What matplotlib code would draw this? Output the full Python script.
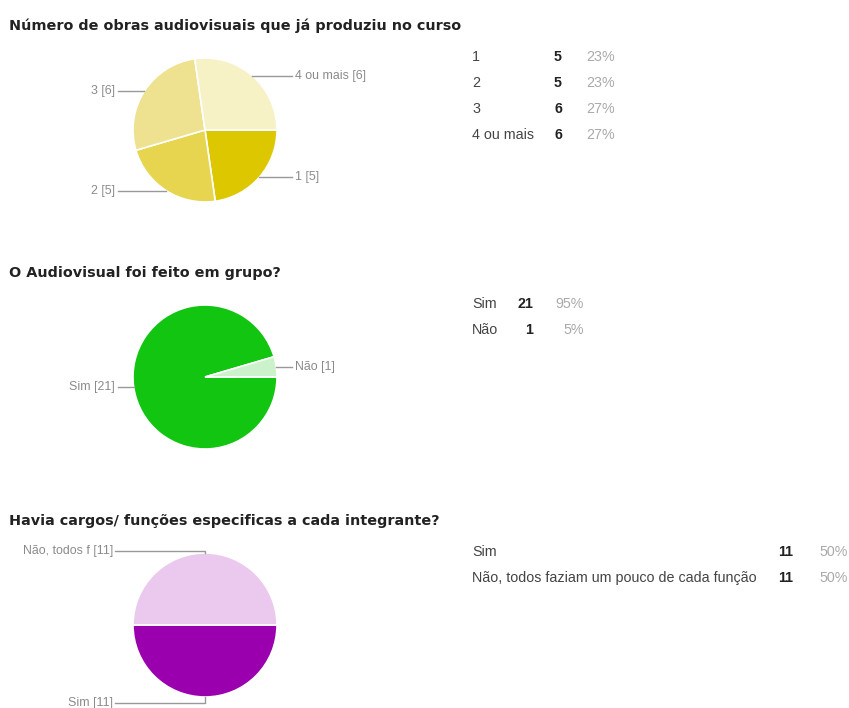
import numpy as np
import matplotlib
matplotlib.use("Agg")
import matplotlib.pyplot as plt

# --- data ---
titles = ["Número de obras audiovisuais que já produziu no curso",
          "O Audiovisual foi feito em grupo?",
          "Havia cargos/ funções especificas a cada integrante?"]

q1_labels = ["1", "2", "3", "4 ou mais"]
q1_short = ["1", "2", "3", "4 ou mais"]
q1_counts = [5, 5, 6, 6]
q1_colors = ["#dcc700", "#e7d54f", "#eee290", "#f7f1c6"]

q2_labels = ["Sim", "Não"]
q2_short = ["Sim", "Não"]
q2_counts = [21, 1]
q2_colors = ["#11c511", "#ccf2cc"]

q3_labels = ["Sim", "Não, todos faziam um pouco de cada função"]
q3_short = ["Sim", "Não, todos f"]
q3_counts = [11, 11]
q3_colors = ["#9a00ad", "#ebc9ef"]

W, H = 849, 708
fig = plt.figure(figsize=(W / 100, H / 100), dpi=100)
ax = fig.add_axes([0, 0, 1, 1])

BODY = "Liberation Sans"
TITLE_FONT = "DejaVu Sans"


def draw_block(ax, cy, title, labels, short, counts, colors, col_count, col_pct):
    cx, r = 205, 72
    total = sum(counts)
    # y axis points down, so counterclock in data = clockwise on screen
    wedges, _ = ax.pie(counts, colors=colors, startangle=0, counterclock=True,
                       center=(cx, cy), radius=r,
                       wedgeprops=dict(edgecolor="white", linewidth=1.2))
    ax.text(9, cy - r - 32, title, fontsize=10.4, fontweight="bold",
            family=TITLE_FONT, color="#222222", va="center", ha="left")

    # slice labels with leader lines
    for w, lab, n in zip(wedges, short, counts):
        mid = np.deg2rad((w.theta1 + w.theta2) / 2)
        ex, ey = cx + r * np.cos(mid), cy + r * np.sin(mid)
        txt = "%s [%d]" % (lab, n)
        if abs(np.cos(mid)) < 0.05:
            # top / bottom slice: small elbow then out to the left
            ly = ey + (6 if np.sin(mid) > 0 else -2)
            ax.plot([ex, ex, cx - 90], [ey, ly, ly], color="#999999", lw=1)
            ax.text(cx - 92, ly, txt, fontsize=8.9, family=BODY, color="#8a8a8a",
                    ha="right", va="center")
        elif np.cos(mid) > 0:
            ax.plot([ex, cx + 87], [ey, ey], color="#999999", lw=1)
            ax.text(cx + 90, ey, txt, fontsize=8.9, family=BODY, color="#8a8a8a",
                    ha="left", va="center")
        else:
            ax.plot([ex, cx - 87], [ey, ey], color="#999999", lw=1)
            ax.text(cx - 90, ey, txt, fontsize=8.9, family=BODY, color="#8a8a8a",
                    ha="right", va="center")

    # summary table
    y0 = cy - r - 1
    for i, (lab, n) in enumerate(zip(labels, counts)):
        y = y0 + i * 26
        pct = int(round(100 * n / total))
        ax.text(472, y, lab, fontsize=10.3, family=BODY, color="#444444",
                ha="left", va="center")
        ax.text(col_count, y, str(n), fontsize=10.3, family=BODY, color="#222222",
                fontweight="bold", ha="right", va="center")
        ax.text(col_pct, y, "%d%%" % pct, fontsize=10.3, family=BODY, color="#aaaaaa",
                ha="right", va="center")


draw_block(ax, 130, titles[0], q1_labels, q1_short, q1_counts, q1_colors, 562, 615)
draw_block(ax, 377, titles[1], q2_labels, q2_short, q2_counts, q2_colors, 533, 584)
draw_block(ax, 625, titles[2], q3_labels, q3_short, q3_counts, q3_colors, 793, 848)

ax.set_xlim(0, W)
ax.set_ylim(H, 0)
ax.set_aspect("equal")
ax.axis("off")

fig.savefig("out.png", dpi=100, facecolor="white")
